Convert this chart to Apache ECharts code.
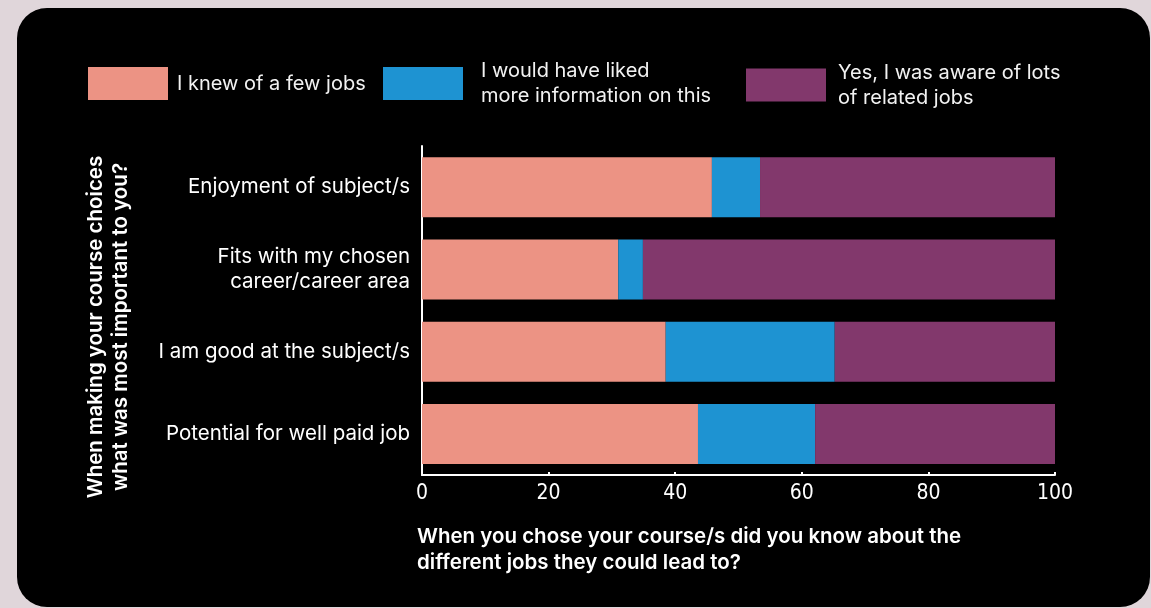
<!DOCTYPE html>
<html>
<head>
<meta charset="utf-8">
<script src="https://cdn.jsdelivr.net/npm/echarts@6/dist/echarts.min.js"></script>
<style>
html,body{margin:0;padding:0;background:#e0d6da;}
#chart{width:1151px;height:608px;}
</style>
</head>
<body>
<div id="chart"></div>
<script>
const categories = ["Enjoyment of subject/s", "Fits with my chosen\ncareer/career area", "I am good at the subject/s", "Potential for well paid job"];
const seriesNames = ["I knew of a few jobs", "I would have liked\nmore information on this", "Yes, I was aware of lots\nof related jobs"];
const knewFew = [45.8, 31.0, 38.5, 43.6];
const moreInfo = [7.6, 3.9, 26.7, 18.5];
const awareLots = [46.6, 65.1, 34.8, 37.9];
const xTicks = [0, 20, 40, 60, 80, 100];
const colors = ["#ec9384", "#1e93d2", "#82386c"];
const yTitle = "When making your course choices\nwhat was most important to you?";
const xTitle = "When you chose your course/s did you know about the\ndifferent jobs they could lead to?";

const FONT = "Inter, 'Noto Sans', sans-serif";
const chart = echarts.init(document.getElementById('chart'));
const values = [knewFew, moreInfo, awareLots];

const legendPos = [
  {left: 88, top: 67, pad: [0, 0, 0, 4]},
  {left: 383, top: 58.5, pad: [0, 0, 0, 13]},
  {left: 746, top: 60, pad: [0, 0, 0, 7]}
];

chart.setOption({
  backgroundColor: 'transparent',
  animation: false,
  graphic: [
    {type: 'rect', z: -10, shape: {x: 17, y: 8, width: 1133, height: 599, r: 30}, style: {fill: '#000000'}},
    {type: 'text', x: 108, y: 327, rotation: Math.PI / 2, style: {text: yTitle, fill: '#ffffff', font: '600 20.5px ' + FONT, lineHeight: 25, align: 'center', verticalAlign: 'middle'}}
  ],
  title: {
    text: xTitle, left: 417, top: 524, padding: 0,
    textStyle: {color: '#ffffff', fontFamily: FONT, fontSize: 20.5, fontWeight: 600, lineHeight: 26}
  },
  legend: seriesNames.map((n, i) => ({
    data: [n], left: legendPos[i].left, top: legendPos[i].top, padding: 0,
    itemWidth: 80, itemHeight: 33, icon: 'rect',
    textStyle: {color: '#f2f2f2', fontFamily: FONT, fontSize: 20, lineHeight: 25, padding: legendPos[i].pad}
  })),
  grid: {left: 422, right: 96, top: 146, bottom: 133, containLabel: false},
  xAxis: {
    type: 'value', min: xTicks[0], max: xTicks[xTicks.length - 1], interval: 20,
    axisLine: {show: true, lineStyle: {color: '#ffffff', width: 2}},
    axisTick: {show: true, inside: true, length: 3, lineStyle: {color: '#ffffff', width: 2}},
    splitLine: {show: false},
    axisLabel: {color: '#ffffff', fontFamily: "'DejaVu Sans Condensed', 'Liberation Sans Narrow', sans-serif", fontSize: 21, margin: 8}
  },
  yAxis: {
    type: 'category', data: categories, inverse: true,
    axisLine: {show: true, lineStyle: {color: '#ffffff', width: 2}},
    axisTick: {show: false},
    axisLabel: {color: '#ffffff', fontFamily: FONT, fontSize: 20.5, lineHeight: 25, margin: 12}
  },
  series: seriesNames.map((n, i) => ({
    name: n, type: 'bar', stack: 'total', data: values[i],
    barWidth: 60, itemStyle: {color: colors[i]}
  }))
});
</script>
</body>
</html>
